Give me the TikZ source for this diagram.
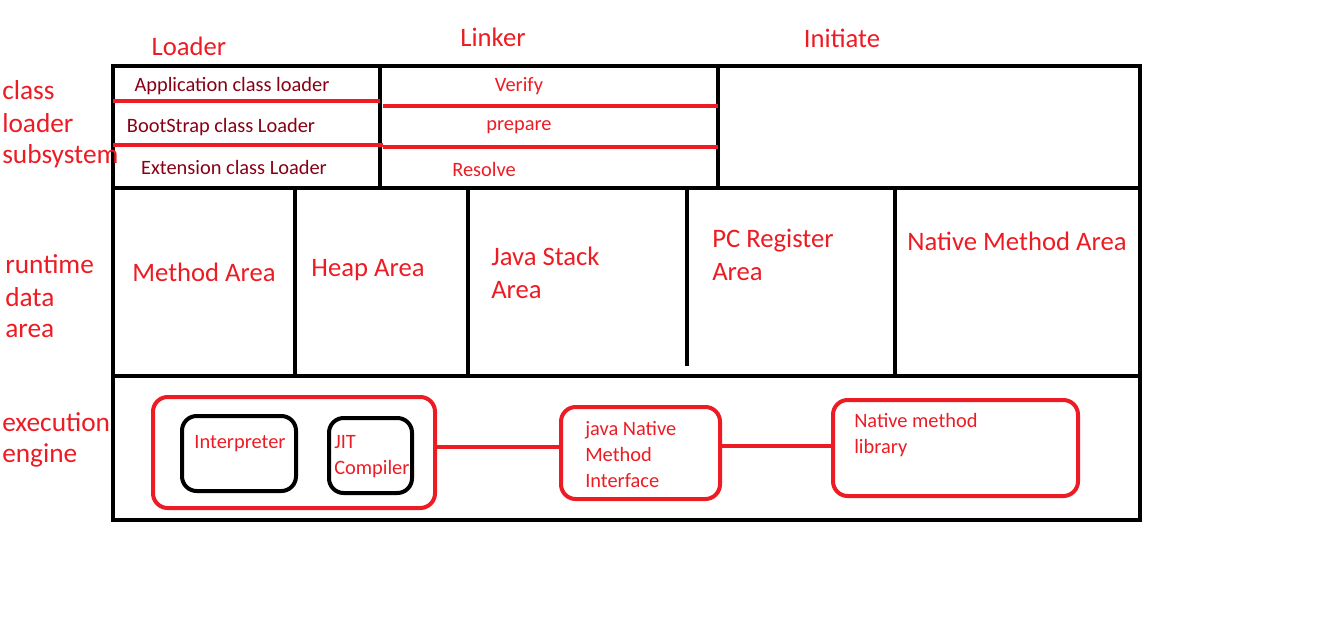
\documentclass[tikz,border=0pt]{standalone}
\usepackage{fontspec}
\setmainfont{Carlito}
\usepackage{tikz}
\usetikzlibrary{positioning}
\definecolor{paintRed}{RGB}{237, 28, 36}
\definecolor{paintDarkRed}{RGB}{136, 0, 21}

\begin{document}
\begin{tikzpicture}[x=0.75pt, y=-0.75pt]
        \tikzset{
            frame/.style={line width=3pt, black},
            redline/.style={line width=3pt, paintRed},
            redbox/.style={draw=paintRed, line width=3pt, rounded corners=11pt, inner sep=0pt},
            blackbox/.style={draw=black, line width=3pt, rounded corners=11pt, inner sep=0pt},
            title/.style={paintRed, font=\fontsize{20}{22}\selectfont},
            side/.style={paintRed, anchor=west, inner sep=0pt, font=\fontsize{20.5}{22}\selectfont},
            small/.style={paintRed, font=\fontsize{15.3}{19.5}\selectfont},
            loadertext/.style={paintDarkRed, font=\fontsize{15.3}{17}\selectfont}
        }
        \useasboundingbox[fill=white] (0,0) rectangle (1326,618);

        % outer frame and sections
        \draw[frame] (113,66) rectangle (1140,520);
        \draw[frame] (113,188) -- (1140,188);
        \draw[frame] (113,376) -- (1140,376);
        \draw[frame] (380,66) -- (380,188);
        \draw[frame] (718,66) -- (718,188);
        \foreach \x/\yend in {295/374, 468/374, 687/366, 895/374}
            \draw[frame] (\x,190) -- (\x,\yend);

        % red separators in loader and linker
        \draw[redline] (113,101) -- (380,101);
        \draw[redline] (113,145) -- (383,145);
        \draw[redline] (383,106) -- (718,106);
        \draw[redline] (383,147) -- (718,147);

        % column titles
        \node[title] (loader) at (189,46) {Loader};
        \node[title] (linker) at (493,37) {Linker};
        \node[title] (initiate) at (842,38) {Initiate};

        % section labels
        \node[side] (cls1) at (2,90) {class};
        \node[side] (cls2) at (2,123) {loader};
        \node[side] (cls3) at (2,156) {subsystem};
        \node[side] (rt1) at (5,264) {runtime};
        \node[side] (rt2) at (5,297) {data};
        \node[side] (rt3) at (5,331) {area};
        \node[side] (ex1) at (2,422) {execution};
        \node[side] (ex2) at (2,455) {engine};

        % class loader subsystem
        \node[loadertext] (app) at (232,86) {Application class loader};
        \node[loadertext] (boot) at (221,127) {BootStrap class Loader};
        \node[loadertext] (ext) at (234,167) {Extension class Loader};
        \node[small] (verify) at (519,86) {Verify};
        \node[small] (prepare) at (519,127) {prepare};
        \node[small] (resolve) at (484,169) {Resolve};

        % runtime data area
        \node[title] (method) at (204,272) {Method Area};
        \node[title] (heap) at (368,270) {Heap Area};
        \node[title, align=left, anchor=west, inner sep=0pt, font=\fontsize{20}{24.75}\selectfont] (stack) at (491,273) {Java Stack\\Area};
        \node[title, align=left, anchor=west, inner sep=0pt, font=\fontsize{20}{24.75}\selectfont] (pc) at (712,255) {PC Register\\Area};
        \node[title] (native) at (1017,241) {Native Method Area};

        % execution engine
        \node[redbox, minimum width=211.5pt, minimum height=83.25pt] (engine) at (294,452.5) {};
        \node[blackbox, minimum width=85.5pt, minimum height=56.25pt] (interp) at (239,453.5) {};
        \node[blackbox, minimum width=62.25pt, minimum height=56.25pt] (jit) at (370.5,455.5) {};
        \node[redbox, minimum width=119.25pt, minimum height=69pt] (jni) at (640.5,453) {};
        \node[redbox, minimum width=183.75pt, minimum height=72pt] (lib) at (955.5,448) {};
        \coordinate (engineout) at ([yshift=4pt]engine.east);
        \coordinate (jniout) at ([yshift=5.25pt]jni.east);
        \draw[redline] (engineout) -- (engineout -| jni.west);
        \draw[redline] (jniout) -- (jniout -| lib.west);

        \node[small] (interptext) at (240,444) {Interpreter};
        \node[small, align=left, anchor=north west, inner sep=0pt] (jittext) at (334,435) {JIT\\Compiler};
        \node[small, align=left, anchor=north west, inner sep=0pt] (jnitext) at (585,421) {java Native\\Method\\Interface};
        \node[small, align=left, anchor=north west, inner sep=0pt] (libtext) at (854,413) {Native method\\library};
    \end{tikzpicture}
\end{document}
